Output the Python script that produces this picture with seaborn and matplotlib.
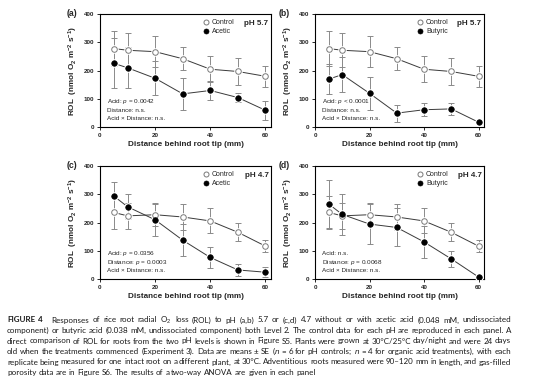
import pandas as pd
import numpy as np
import matplotlib.pyplot as plt
import seaborn as sns

plt.switch_backend('Agg')

# Values (means and SE)
distance = [5, 10, 20, 30, 40, 50, 60]

ctrl57 = [278, 272, 267, 242, 205, 197, 180]
ctrl57_se = [62, 60, 55, 40, 46, 46, 38]
acetic57 = [226, 210, 173, 118, 130, 105, 60]
acetic57_se = [88, 73, 60, 57, 34, 17, 33]
butyric57 = [170, 186, 120, 50, 62, 65, 18]
butyric57_se = [52, 61, 59, 30, 23, 20, 8]

ctrl47 = [236, 224, 228, 220, 206, 166, 117]
ctrl47_se = [57, 47, 40, 46, 44, 32, 20]
acetic47 = [294, 256, 210, 138, 77, 33, 25]
acetic47_se = [50, 44, 56, 57, 38, 20, 18]
butyric47 = [266, 229, 195, 183, 132, 72, 8]
butyric47_se = [84, 73, 71, 67, 56, 29, 8]

panel_labels = ['(a)', '(b)', '(c)', '(d)']
panel_ph = ['pH 5.7', 'pH 5.7', 'pH 4.7', 'pH 4.7']
treat_names = ['Acetic', 'Butyric', 'Acetic', 'Butyric']
anova_text = [
    ['Acid: $p$ = 0.0042', 'Distance: n.s.', 'Acid \u00d7 Distance: n.s.'],
    ['Acid: $p$ < 0.0001', 'Distance: n.s.', 'Acid \u00d7 Distance: n.s.'],
    ['Acid: $p$ = 0.0356', 'Distance: $p$ = 0.0003', 'Acid \u00d7 Distance: n.s.'],
    ['Acid: n.s.', 'Distance: $p$ = 0.0068', 'Acid \u00d7 Distance: n.s.'],
]

caption_lines = [
    '**FIGURE **4 Responses of rice root radial O$_2$ loss (ROL) to pH (a,b) 5.7 or (c,d) 4.7 without or with acetic acid (0.048 mM, undissociated',
    'component) or butyric acid (0.038 mM, undissociated component) both Level 2. The control data for each pH are reproduced in each panel. A',
    'direct comparison of ROL for roots from the two pH levels is shown in Figure S5. Plants were grown at 30\u00b0C/25\u00b0C day/night and were 24 days',
    'old when the treatments commenced (Experiment 3). Data are means \u00b1 SE ($n$ = 6 for pH controls; $n$ = 4 for organic acid treatments), with each',
    'replicate being measured for one intact root on a different plant, at 30\u00b0C. Adventitious roots measured were 90\u2013120 mm in length, and gas-filled',
    'porosity data are in Figure S6. The results of a two-way ANOVA are given in each panel',
]

sns.set_style('ticks')
plt.rcParams['font.family'] = ['Liberation Sans', 'DejaVu Sans']
plt.rcParams['mathtext.fontset'] = 'custom'
plt.rcParams['mathtext.rm'] = 'Liberation Sans'
plt.rcParams['mathtext.it'] = 'Liberation Sans:italic'
plt.rcParams['mathtext.bf'] = 'Liberation Sans:bold'

W, H = 554, 388
fig = plt.figure(figsize=(W / 100, H / 100), dpi=100)


def px_axes(x0, y0, x1, y1):
    return fig.add_axes([x0 / W, 1 - y1 / H, (x1 - x0) / W, (y1 - y0) / H])


axes = [px_axes(100, 14, 271, 127.3), px_axes(315, 14, 484, 127.3),
        px_axes(100, 166, 271, 279.3), px_axes(315, 166, 484, 279.3)]

ctrl_sets = [(ctrl57, ctrl57_se), (ctrl57, ctrl57_se), (ctrl47, ctrl47_se), (ctrl47, ctrl47_se)]
treat_sets = [(acetic57, acetic57_se), (butyric57, butyric57_se),
              (acetic47, acetic47_se), (butyric47, butyric47_se)]

err_col = '#8a8a8a'
line_col = '#3a3a3a'

for i, ax in enumerate(axes):
    c_mean, c_se = ctrl_sets[i]
    t_mean, t_se = treat_sets[i]
    df = pd.DataFrame({
        'distance': distance * 2,
        'rol': c_mean + t_mean,
        'se': c_se + t_se,
        'group': ['Control'] * len(distance) + [treat_names[i]] * len(distance),
    })

    for g in ['Control', treat_names[i]]:
        sub = df[df['group'] == g]
        ax.errorbar(sub['distance'], sub['rol'], yerr=sub['se'], fmt='none',
                    ecolor=err_col, elinewidth=0.7, capsize=2.3, capthick=0.7, zorder=1)

    sns.lineplot(data=df, x='distance', y='rol', hue='group',
                 palette={'Control': line_col, treat_names[i]: line_col},
                 linewidth=0.7, legend=False, ax=ax, zorder=2)
    # white halo so the lines stop short of the markers
    sns.scatterplot(data=df, x='distance', y='rol', color='white', s=38,
                    linewidth=0, legend=False, ax=ax, zorder=3)
    sns.scatterplot(data=df[df['group'] == 'Control'], x='distance', y='rol',
                    color='white', edgecolor='#7a7a7a', linewidth=0.7, s=16,
                    label='Control', ax=ax, zorder=4)
    sns.scatterplot(data=df[df['group'] == treat_names[i]], x='distance', y='rol',
                    color='black', edgecolor='black', linewidth=0.5, s=16,
                    label=treat_names[i], ax=ax, zorder=4)

    ax.set_xlim(0, 62)
    ax.set_ylim(0, 400)
    ax.set_xticks([0, 20, 40, 60])
    ax.set_yticks([0, 100, 200, 300, 400])
    for s in ax.spines.values():
        s.set_visible(True)
        s.set_linewidth(0.8)
        s.set_color('black')
    ax.tick_params(direction='out', length=2.5, width=0.7, labelsize=4.5, pad=1.5)
    for lab in ax.get_xticklabels() + ax.get_yticklabels():
        lab.set_fontweight('bold')

    ax.set_xlabel('Distance behind root tip (mm)', fontsize=5.9, fontweight='bold', labelpad=2.5)
    ax.set_ylabel('ROL  (nmol O$_\\mathbf{2}$ m$^{\\mathbf{-2}}$ s$^{\\mathbf{-1}}$)',
                  fontsize=5.9, fontweight='bold', labelpad=3)
    ax.legend(loc='upper left', bbox_to_anchor=(0.57, 1.0), frameon=False, fontsize=5.0,
              handletextpad=0.2, labelspacing=0.25, borderaxespad=0.3, handlelength=1.2,
              markerscale=0.9)
    ax.text(0.985, 0.915, panel_ph[i], transform=ax.transAxes, ha='right', va='center',
            fontsize=5.8, fontweight='bold')
    for k, line in enumerate(anova_text[i]):
        ax.text(0.04, 0.225 - k * 0.075, line, transform=ax.transAxes, ha='left',
                va='center', fontsize=4.6)

label_pos = [(67, 14), (279, 14), (67, 166), (279, 166)]
for lab, (lx, ly) in zip(panel_labels, label_pos):
    fig.text(lx / W, 1 - ly / H, lab, fontsize=6.3, fontweight='bold', ha='left', va='center')


# caption, justified word by word
cap_family = ['Lato', 'DejaVu Sans']
renderer = fig.canvas.get_renderer()
x_left, x_right = 7, 511
baselines = [322.5, 333.0, 343.5, 354.0, 364.5, 375.0]

# pick the font size so the second line fits the text block with normal spacing
probe = fig.text(0, 0, caption_lines[1], fontsize=6, family=cap_family)
cap_fs = 6 * (x_right - x_left) / probe.get_window_extent(renderer).width * 0.985
probe.remove()

for li, line in enumerate(caption_lines):
    items = []
    for w in line.split(' '):
        bold = w.startswith('**')
        items.append((w.replace('**', ''), bold))
    artists = []
    for w, bold in items:
        t = fig.text(0, 1 - baselines[li] / H, w, fontsize=cap_fs, family=cap_family,
                     fontweight='bold' if bold else 'normal', ha='left', va='baseline',
                     color='#1a1a1a')
        artists.append(t)
    widths = [a.get_window_extent(renderer).width for a in artists]
    n_gaps = len(artists) - 1
    space = cap_fs * 0.25 * 100 / 72
    extra = [0.0] * n_gaps
    if li == 0:
        extra[1] = space * 2.5
    if li < len(caption_lines) - 1:
        gap = (x_right - x_left - sum(widths) - sum(extra)) / n_gaps
    else:
        gap = space
    x = x_left
    for k, a in enumerate(artists):
        a.set_x(x / W)
        x += widths[k]
        if k < n_gaps:
            x += gap + extra[k]

plt.savefig('out.png', dpi=100)
plt.close()
